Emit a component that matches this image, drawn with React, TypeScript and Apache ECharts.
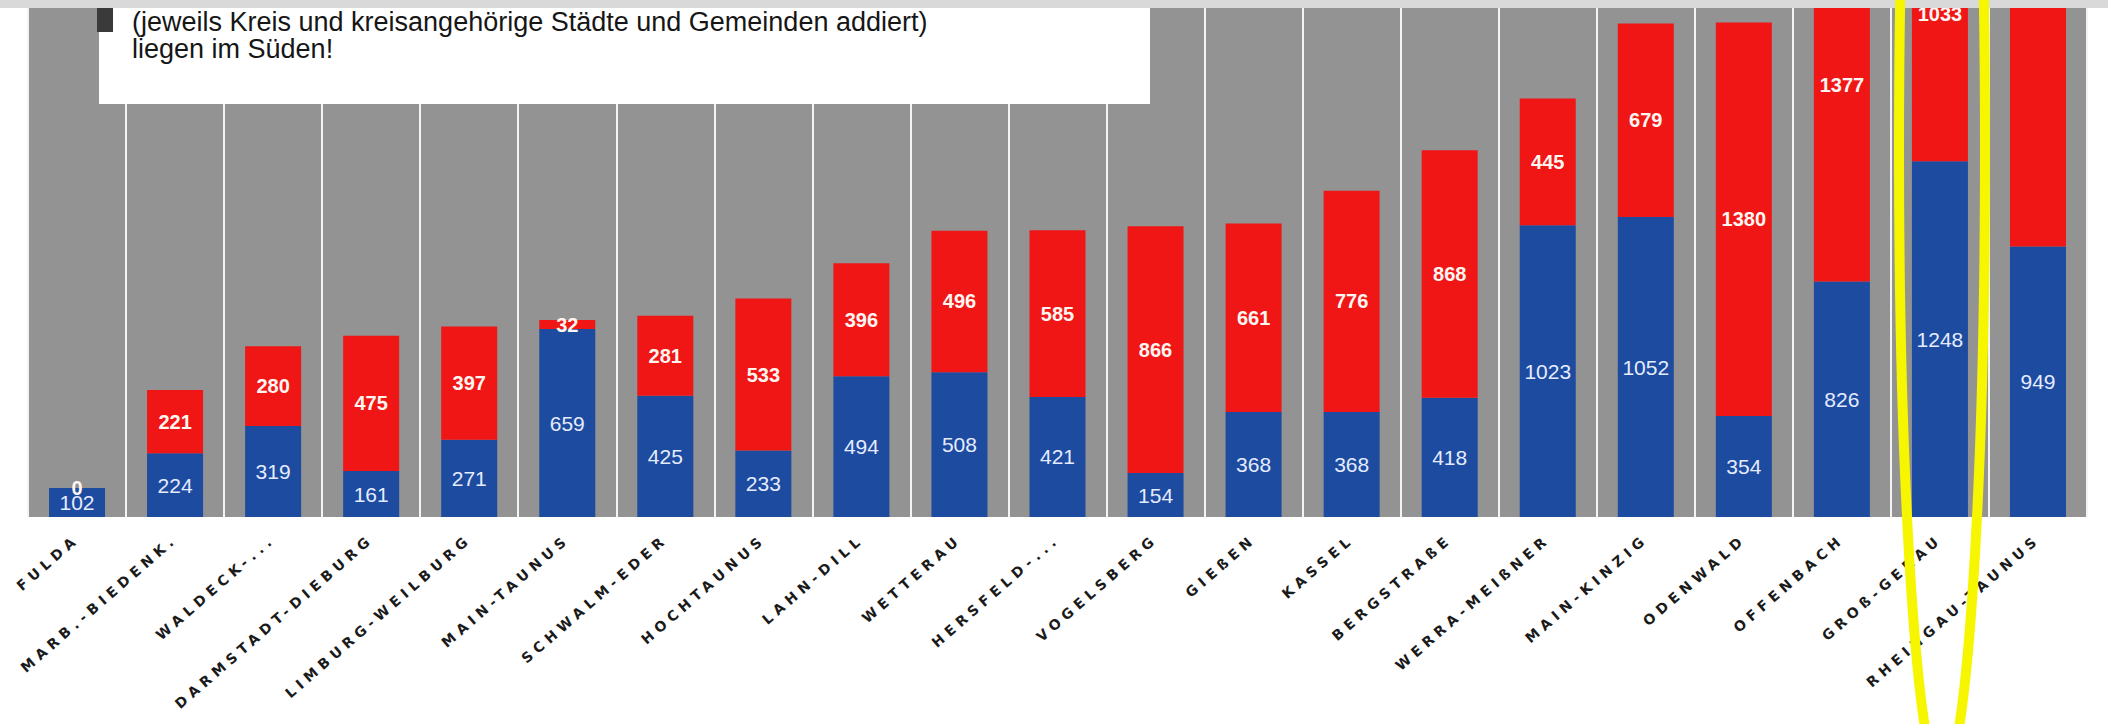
import React, { useEffect, useRef } from "react";
import * as echarts from "echarts";

// Landkreise (Hessen), sortiert wie im Diagramm
const kreise = [
  "FULDA",
  "MARB.-BIEDENK.",
  "WALDECK-...",
  "DARMSTADT-DIEBURG",
  "LIMBURG-WEILBURG",
  "MAIN-TAUNUS",
  "SCHWALM-EDER",
  "HOCHTAUNUS",
  "LAHN-DILL",
  "WETTERAU",
  "HERSFELD-...",
  "VOGELSBERG",
  "GIEßEN",
  "KASSEL",
  "BERGSTRAßE",
  "WERRA-MEIßNER",
  "MAIN-KINZIG",
  "ODENWALD",
  "OFFENBACH",
  "GROß-GERAU",
  "RHEINGAU-TAUNUS",
];

// untere (blaue) Teilsumme je Kreis
const blauWerte = [102, 224, 319, 161, 271, 659, 425, 233, 494, 508, 421, 154, 368, 368, 418, 1023, 1052, 354, 826, 1248, 949];

// obere (rote) Teilsumme je Kreis
const rotWerte = [0, 221, 280, 475, 397, 32, 281, 533, 396, 496, 585, 866, 661, 776, 868, 445, 679, 1380, 1377, 1033, 1900];

// Hinweistext im Kasten oben links
const hinweisZeilen = [
  "(jeweils Kreis und kreisangehörige Städte und Gemeinden addiert)",
  "liegen im Süden!",
];

const W = 2108;
const H = 724;

export default function App() {
  const ref = useRef<HTMLDivElement>(null);

  useEffect(() => {
    document.body.style.margin = "0";
    if (!ref.current) return;
    const chart = echarts.init(ref.current, null, { renderer: "svg" });

    // Die oberste Beschriftung des letzten Balkens liegt außerhalb der Zeichenfläche
    const rotDaten = rotWerte.map((v, i) =>
      i === rotWerte.length - 1 ? { value: v, label: { show: false } } : v
    );

    const option: echarts.EChartsOption = {
      animation: false,
      backgroundColor: "#ffffff",
      grid: {
        left: 28,
        right: 21,
        top: 8,
        height: 509,
        show: true,
        backgroundColor: "#939393",
        borderWidth: 0,
      },
      xAxis: {
        type: "category",
        data: kreise,
        axisLine: { show: false },
        axisTick: { show: false },
        splitLine: { show: true, lineStyle: { color: "#f4f4f4", width: 2 } },
        axisLabel: {
          interval: 0,
          rotate: 41,
          margin: 20,
          fontFamily: "DejaVu Sans",
          fontWeight: "bold",
          fontSize: 14,
          color: "#1a1a1a",
        },
      },
      yAxis: {
        type: "value",
        min: 0,
        max: 1785,
        show: false,
        splitLine: { show: false },
      },
      series: [
        {
          type: "bar",
          name: "blau",
          stack: "summe",
          data: blauWerte,
          barWidth: 56,
          clip: false,
          itemStyle: { color: "#1c4b9f" },
          label: {
            show: true,
            position: "inside",
            color: "#e6ecff",
            fontSize: 21,
            fontFamily: "Liberation Sans",
          },
        },
        {
          type: "bar",
          name: "rot",
          stack: "summe",
          data: rotDaten,
          barWidth: 56,
          clip: false,
          itemStyle: { color: "#f01616" },
          label: {
            show: true,
            position: "inside",
            color: "#fff6f2",
            fontSize: 20,
            fontWeight: "bold",
            fontFamily: "Liberation Sans",
          },
        },
      ],
      graphic: [
        {
          type: "rect",
          z: 100,
          shape: { x: 99, y: 0, width: 1051, height: 104 },
          style: { fill: "#ffffff" },
        },
        {
          type: "rect",
          z: 101,
          shape: { x: 97, y: 0, width: 16, height: 32 },
          style: { fill: "#3a3a3a" },
        },
        {
          type: "text",
          z: 101,
          x: 132,
          y: 22,
          style: {
            text: hinweisZeilen[0],
            font: '27px "Liberation Sans"',
            fill: "#161616",
            verticalAlign: "middle",
          },
        },
        {
          type: "text",
          z: 101,
          x: 132,
          y: 49,
          style: {
            text: hinweisZeilen[1],
            font: '27px "Liberation Sans"',
            fill: "#161616",
            verticalAlign: "middle",
          },
        },
        {
          type: "rect",
          z: 150,
          shape: { x: 0, y: 0, width: W, height: 8 },
          style: { fill: "#d9d9d9" },
        },
        {
          type: "ellipse",
          z: 200,
          shape: { cx: 1942, cy: 150, rx: 43, ry: 629 },
          style: { fill: "none", stroke: "#f6f600", lineWidth: 10 },
        },
      ],
    };

    chart.setOption(option);
    return () => chart.dispose();
  }, []);

  return (
    <div style={{ width: W, height: H, position: "relative", background: "#fff", overflow: "hidden" }}>
      <style>{`#kreis-chart text[style*="DejaVu"] { letter-spacing: 5px; }`}</style>
      <div id="kreis-chart" ref={ref} style={{ width: W, height: H }} />
    </div>
  );
}
